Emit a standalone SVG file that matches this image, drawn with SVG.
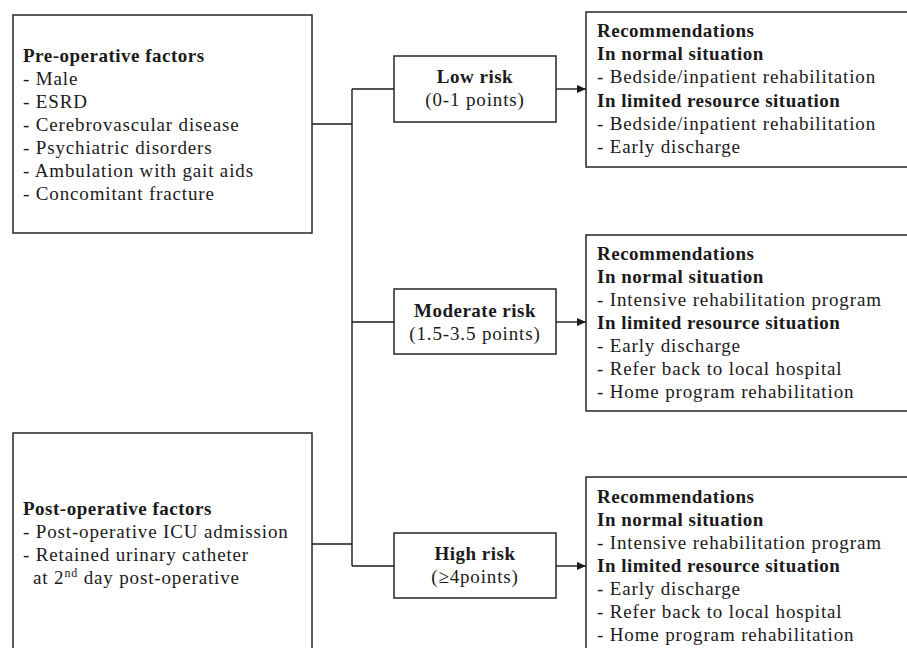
<svg xmlns="http://www.w3.org/2000/svg" width="907" height="648" viewBox="0 0 907 648">
<defs>
<style>
.box{fill:#fff;stroke:#262626;stroke-width:1.5}
.t{font-family:"Liberation Serif","Times New Roman",serif;font-size:19px;fill:#1a1a1a;letter-spacing:0.85px}
.b{font-weight:bold;letter-spacing:0.5px}
.c{text-anchor:middle}
.ln{fill:none;stroke:#1a1a1a;stroke-width:1.4}
</style>
<marker id="ah" markerWidth="10" markerHeight="8" refX="9" refY="4" orient="auto" markerUnits="userSpaceOnUse">
<path d="M0,0 L9,4 L0,8 Z" fill="#1a1a1a"/>
</marker>
</defs>
<rect width="907" height="648" fill="#fff"/>
<g id="connectors">
<path class="ln" d="M312,124 H352"/>
<path class="ln" d="M312,544 H352"/>
<path class="ln" d="M352,89 V566"/>
<path class="ln" d="M352,89 H394"/>
<path class="ln" d="M352,322 H394"/>
<path class="ln" d="M352,566 H394"/>
<path class="ln" d="M556,89 H586" marker-end="url(#ah)"/>
<path class="ln" d="M556,322 H586" marker-end="url(#ah)"/>
<path class="ln" d="M556,566 H586" marker-end="url(#ah)"/>
</g>
<g id="pre-op">
<rect class="box" x="13" y="15" width="299" height="218"/>
<text class="t b" x="23" y="62">Pre-operative factors</text>
<text class="t" x="23" y="85">- Male</text>
<text class="t" x="23" y="108">- ESRD</text>
<text class="t" x="23" y="131">- Cerebrovascular disease</text>
<text class="t" x="23" y="154">- Psychiatric disorders</text>
<text class="t" x="23" y="177">- Ambulation with gait aids</text>
<text class="t" x="23" y="200">- Concomitant fracture</text>
</g>
<g id="post-op">
<rect class="box" x="13" y="433" width="299" height="225"/>
<text class="t b" x="23" y="515">Post-operative factors</text>
<text class="t" x="23" y="538">- Post-operative ICU admission</text>
<text class="t" x="23" y="561">- Retained urinary catheter</text>
<text class="t" x="33" y="584">at 2<tspan font-size="12" dy="-7">nd</tspan><tspan dy="7"> day post-operative</tspan></text>
</g>
<g id="low-risk">
<rect class="box" x="394" y="56" width="162" height="66"/>
<text class="t b c" x="475" y="83">Low risk</text>
<text class="t c" x="475" y="106">(0-1 points)</text>
</g>
<g id="moderate-risk">
<rect class="box" x="394" y="289" width="162" height="65"/>
<text class="t b c" x="475" y="317">Moderate risk</text>
<text class="t c" x="475" y="340">(1.5-3.5 points)</text>
</g>
<g id="high-risk">
<rect class="box" x="394" y="533" width="162" height="65"/>
<text class="t b c" x="475" y="560">High risk</text>
<text class="t c" x="475" y="583">(≥4points)</text>
</g>
<g id="rec-low">
<rect class="box" x="586" y="12" width="330" height="155"/>
<text class="t b" x="597" y="37">Recommendations</text>
<text class="t b" x="597" y="60">In normal situation</text>
<text class="t" x="597" y="83">- Bedside/inpatient rehabilitation</text>
<text class="t b" x="597" y="107">In limited resource situation</text>
<text class="t" x="597" y="130">- Bedside/inpatient rehabilitation</text>
<text class="t" x="597" y="153">- Early discharge</text>
</g>
<g id="rec-moderate">
<rect class="box" x="586" y="235" width="330" height="176"/>
<text class="t b" x="597" y="260">Recommendations</text>
<text class="t b" x="597" y="283">In normal situation</text>
<text class="t" x="597" y="306">- Intensive rehabilitation program</text>
<text class="t b" x="597" y="329">In limited resource situation</text>
<text class="t" x="597" y="352">- Early discharge</text>
<text class="t" x="597" y="375">- Refer back to local hospital</text>
<text class="t" x="597" y="398">- Home program rehabilitation</text>
</g>
<g id="rec-high">
<rect class="box" x="586" y="477" width="330" height="190"/>
<text class="t b" x="597" y="503">Recommendations</text>
<text class="t b" x="597" y="526">In normal situation</text>
<text class="t" x="597" y="549">- Intensive rehabilitation program</text>
<text class="t b" x="597" y="572">In limited resource situation</text>
<text class="t" x="597" y="595">- Early discharge</text>
<text class="t" x="597" y="618">- Refer back to local hospital</text>
<text class="t" x="597" y="641">- Home program rehabilitation</text>
</g>
</svg>
